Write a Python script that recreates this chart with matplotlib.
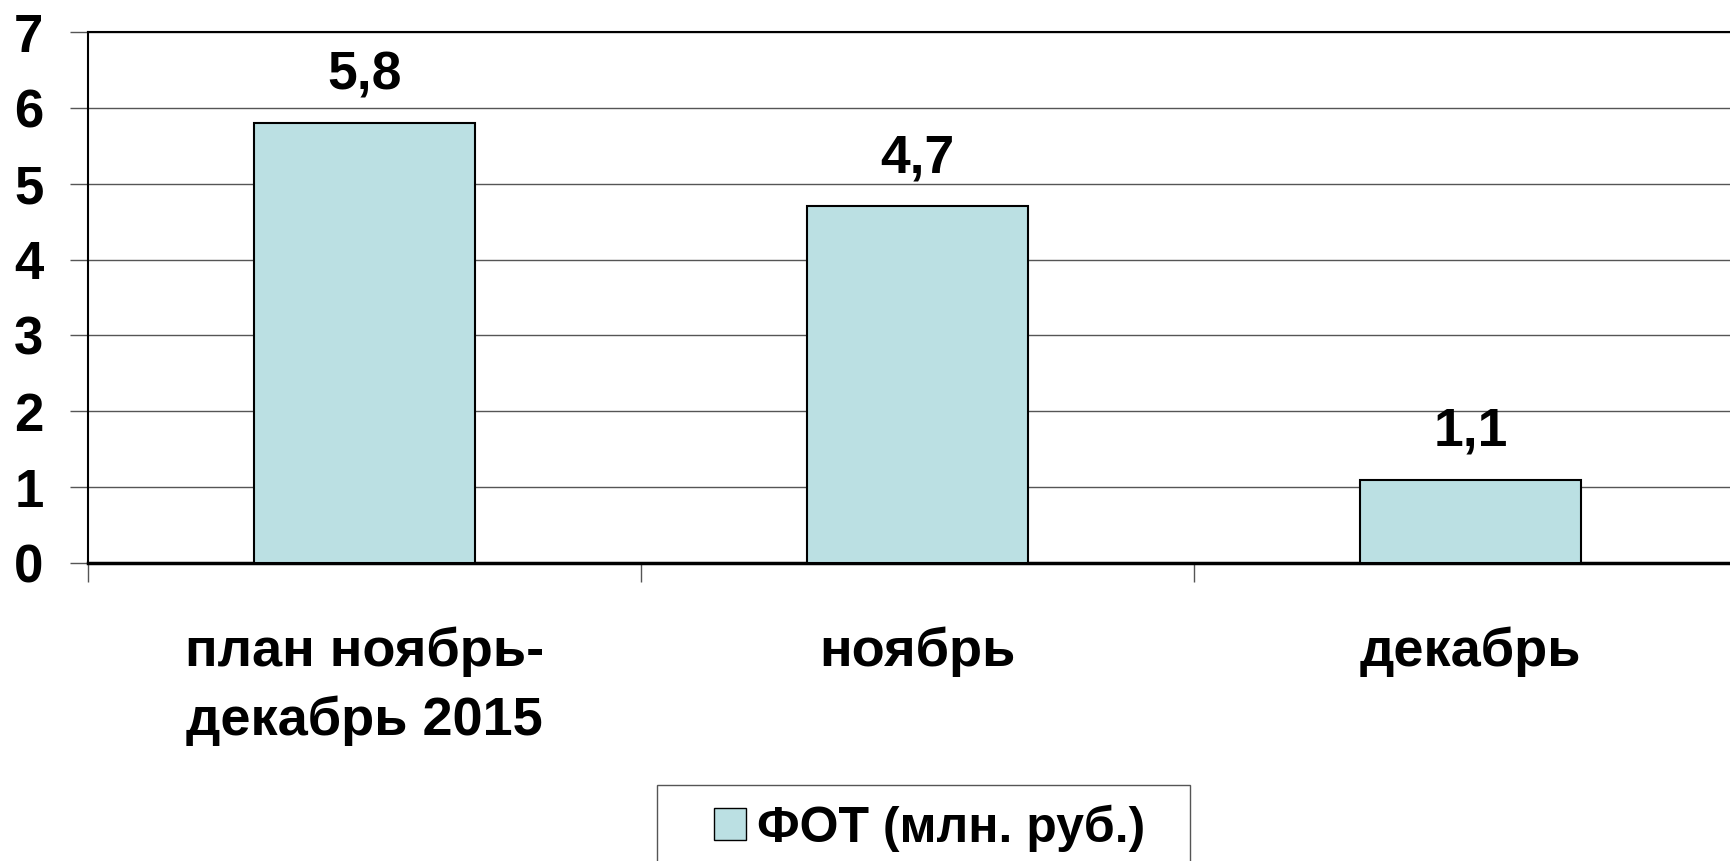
import matplotlib
matplotlib.use("Agg")
import matplotlib.pyplot as plt
from matplotlib.patches import Patch, Rectangle

# Chart data
categories = ["план ноябрь-\nдекабрь 2015", "ноябрь", "декабрь"]
values = [5.8, 4.7, 1.1]
value_labels = ["5,8", "4,7", "1,1"]
series_name = "ФОТ (млн. руб.)"
y_ticks = [0, 1, 2, 3, 4, 5, 6, 7]

bar_color = "#BBE0E3"
grid_color = "#555555"

plt.rcParams['font.family'] = ['Liberation Sans', 'DejaVu Sans']
plt.rcParams['font.weight'] = 'bold'

W, H = 1731, 861
fig = plt.figure(figsize=(W / 100, H / 100), dpi=100)
# plot area runs off the right edge, as in the original slide
ax = fig.add_axes([88 / W, 1 - 563 / H, 3 * 553 / W, 531 / H])

x = list(range(len(categories)))
ax.bar(x, values, width=0.4, color=bar_color, edgecolor="black",
       linewidth=1.5, zorder=3)

# value labels above the bars
for xi, v, lab in zip(x, values, value_labels):
    ax.annotate(lab, (xi, v), xytext=(0, 24.5), textcoords="offset points",
                ha="center", va="baseline", fontsize=38.5, fontweight="bold")

ax.set_xlim(-0.5, 2.5)
ax.set_ylim(0, 7)
ax.set_yticks(y_ticks)
ax.set_yticklabels([str(t) for t in y_ticks])
ax.yaxis.grid(True, color=grid_color, linewidth=1.0, zorder=0)

ax.set_xticks(x)
ax.set_xticklabels(categories, fontsize=39, fontweight="bold",
                   linespacing=1.45)
ax.set_xticks([-0.5, 0.5, 1.5, 2.5], minor=True)
ax.tick_params(axis="x", which="major", length=0, pad=46)
ax.tick_params(axis="x", which="minor", length=14, width=1.0,
               color=grid_color)
ax.tick_params(axis="y", length=13, width=1.0, color=grid_color,
               labelsize=38, pad=19)

for side in ["left", "top", "right"]:
    ax.spines[side].set_linewidth(1.5)
ax.spines["bottom"].set_linewidth(2.5)

# legend box, cut off by the bottom edge of the image
fig.patches.append(Rectangle((657 / W, -0.1), (1190 - 657) / W,
                             0.1 + 1 - 785 / H, transform=fig.transFigure,
                             fill=False, edgecolor=grid_color, linewidth=1.0))
fs_px = 36 * 100 / 72
handle = Patch(facecolor=bar_color, edgecolor="black", linewidth=1.0)
fig.legend([handle], [series_name], loc="center left",
           bbox_to_anchor=(714 / W, 1 - 828 / H),
           fontsize=36, frameon=False, borderpad=0, borderaxespad=0,
           handlelength=32 / fs_px, handleheight=30 / fs_px,
           handletextpad=11 / fs_px)

fig.savefig("out.png", dpi=100)
